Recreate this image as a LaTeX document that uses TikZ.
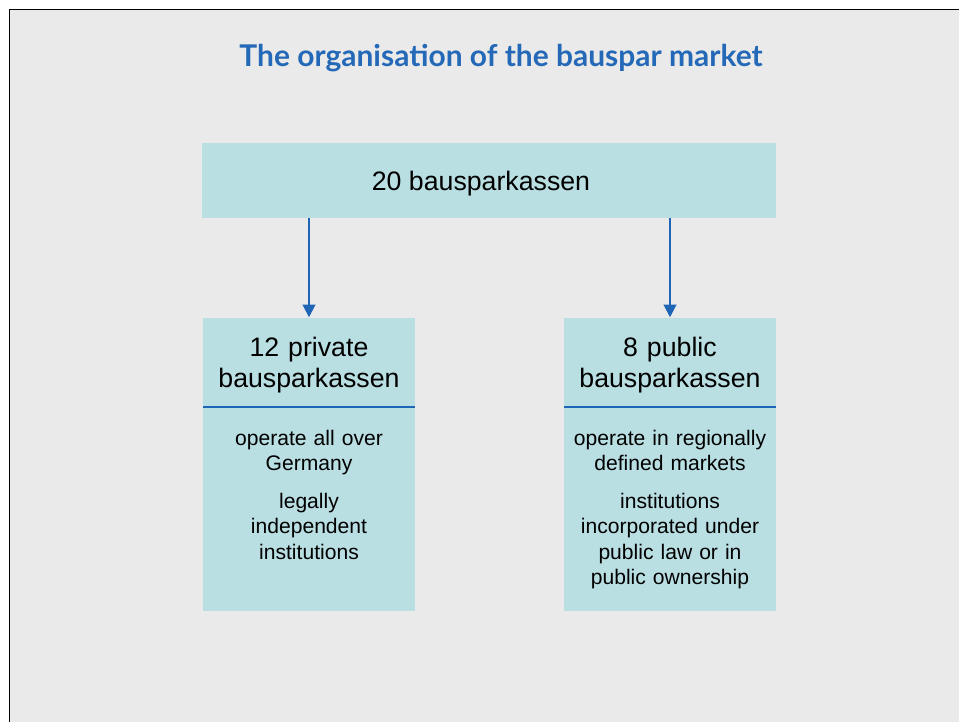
\documentclass[tikz,border=0pt]{standalone}
\usepackage{fontspec}
\setmainfont{Liberation Sans}
\newfontfamily\titlefont{Lato}
\usetikzlibrary{arrows.meta, positioning, calc}

\definecolor{pagegray}{HTML}{EAEAEA}
\definecolor{boxfill}{HTML}{B9DFE3}
\definecolor{lineblue}{HTML}{1F65B6}
\definecolor{titleblue}{HTML}{2468B8}

\begin{document}
\begin{tikzpicture}[
    node distance=2.475cm,
    block/.style={rectangle, fill=boxfill, inner sep=0pt},
    headtext/.style={text width=5.3cm, align=center, minimum height=2.4cm, inner sep=0pt,
        font=\fontsize{19}{22}\selectfont},
    bodytext/.style={text width=5.1cm, align=center, inner sep=0pt,
        font=\fontsize{15}{18}\selectfont},
    divider/.style={draw=lineblue, line width=1.4pt},
    arrow/.style={draw=lineblue, line width=1.4pt, -{Triangle[width=9pt, length=9pt]}}
]
\useasboundingbox (0,0) rectangle (23.975,18.05);
% page background with the frame on the left and at the top
\fill[pagegray] (0.25,0) rectangle (23.975,17.8);
\draw[line width=1.05pt] (0.2375,0) -- (0.2375,17.8125) -- (23.975,17.8125);

\node[text=titleblue, anchor=base, font=\titlefont\bfseries\fontsize{21.3}{25}\selectfont]
    (title) at (12.525,16.375) {The organisation of the bauspar market};

\node [block, minimum width=14.35cm, minimum height=1.875cm, text height=18pt, text depth=4pt,
    font=\fontsize{19}{22}\selectfont]
    (all) at (12.225,13.5375) {20 bausparkassen\hspace*{0.4cm}};

\node [block, minimum width=5.3cm, minimum height=7.325cm, below=of all.south west, anchor=north west, xshift=0.025cm] (private) {};
\node [block, minimum width=5.3cm, minimum height=7.325cm, below=of all.south east, anchor=north east] (public) {};

% headings with the blue rule under them
\node [headtext, anchor=north] (privhead) at (private.north) {12 private\\bausparkassen};
\node [headtext, anchor=north] (pubhead) at (public.north) {8 public\\bausparkassen};
\coordinate (privrule) at ($(private.north)+(0,-2.25)$);
\coordinate (pubrule) at ($(public.north)+(0,-2.25)$);
\draw [divider] (privrule -| private.west) -- (privrule -| private.east);
\draw [divider] (pubrule -| public.west) -- (pubrule -| public.east);

\node [bodytext, below=0.56cm of privrule, anchor=north] (privbody)
    {operate all over\\Germany\\[0.32cm]legally\\independent\\institutions};
\node [bodytext, below=0.56cm of pubrule, anchor=north] (pubbody)
    {operate in regionally\\defined markets\\[0.32cm]institutions\\incorporated under\\public law or in\\public ownership};

\draw [arrow] (all.south -| private.north) -- (private.north);
\draw [arrow] (all.south -| public.north) -- (public.north);
\end{tikzpicture}
\end{document}
